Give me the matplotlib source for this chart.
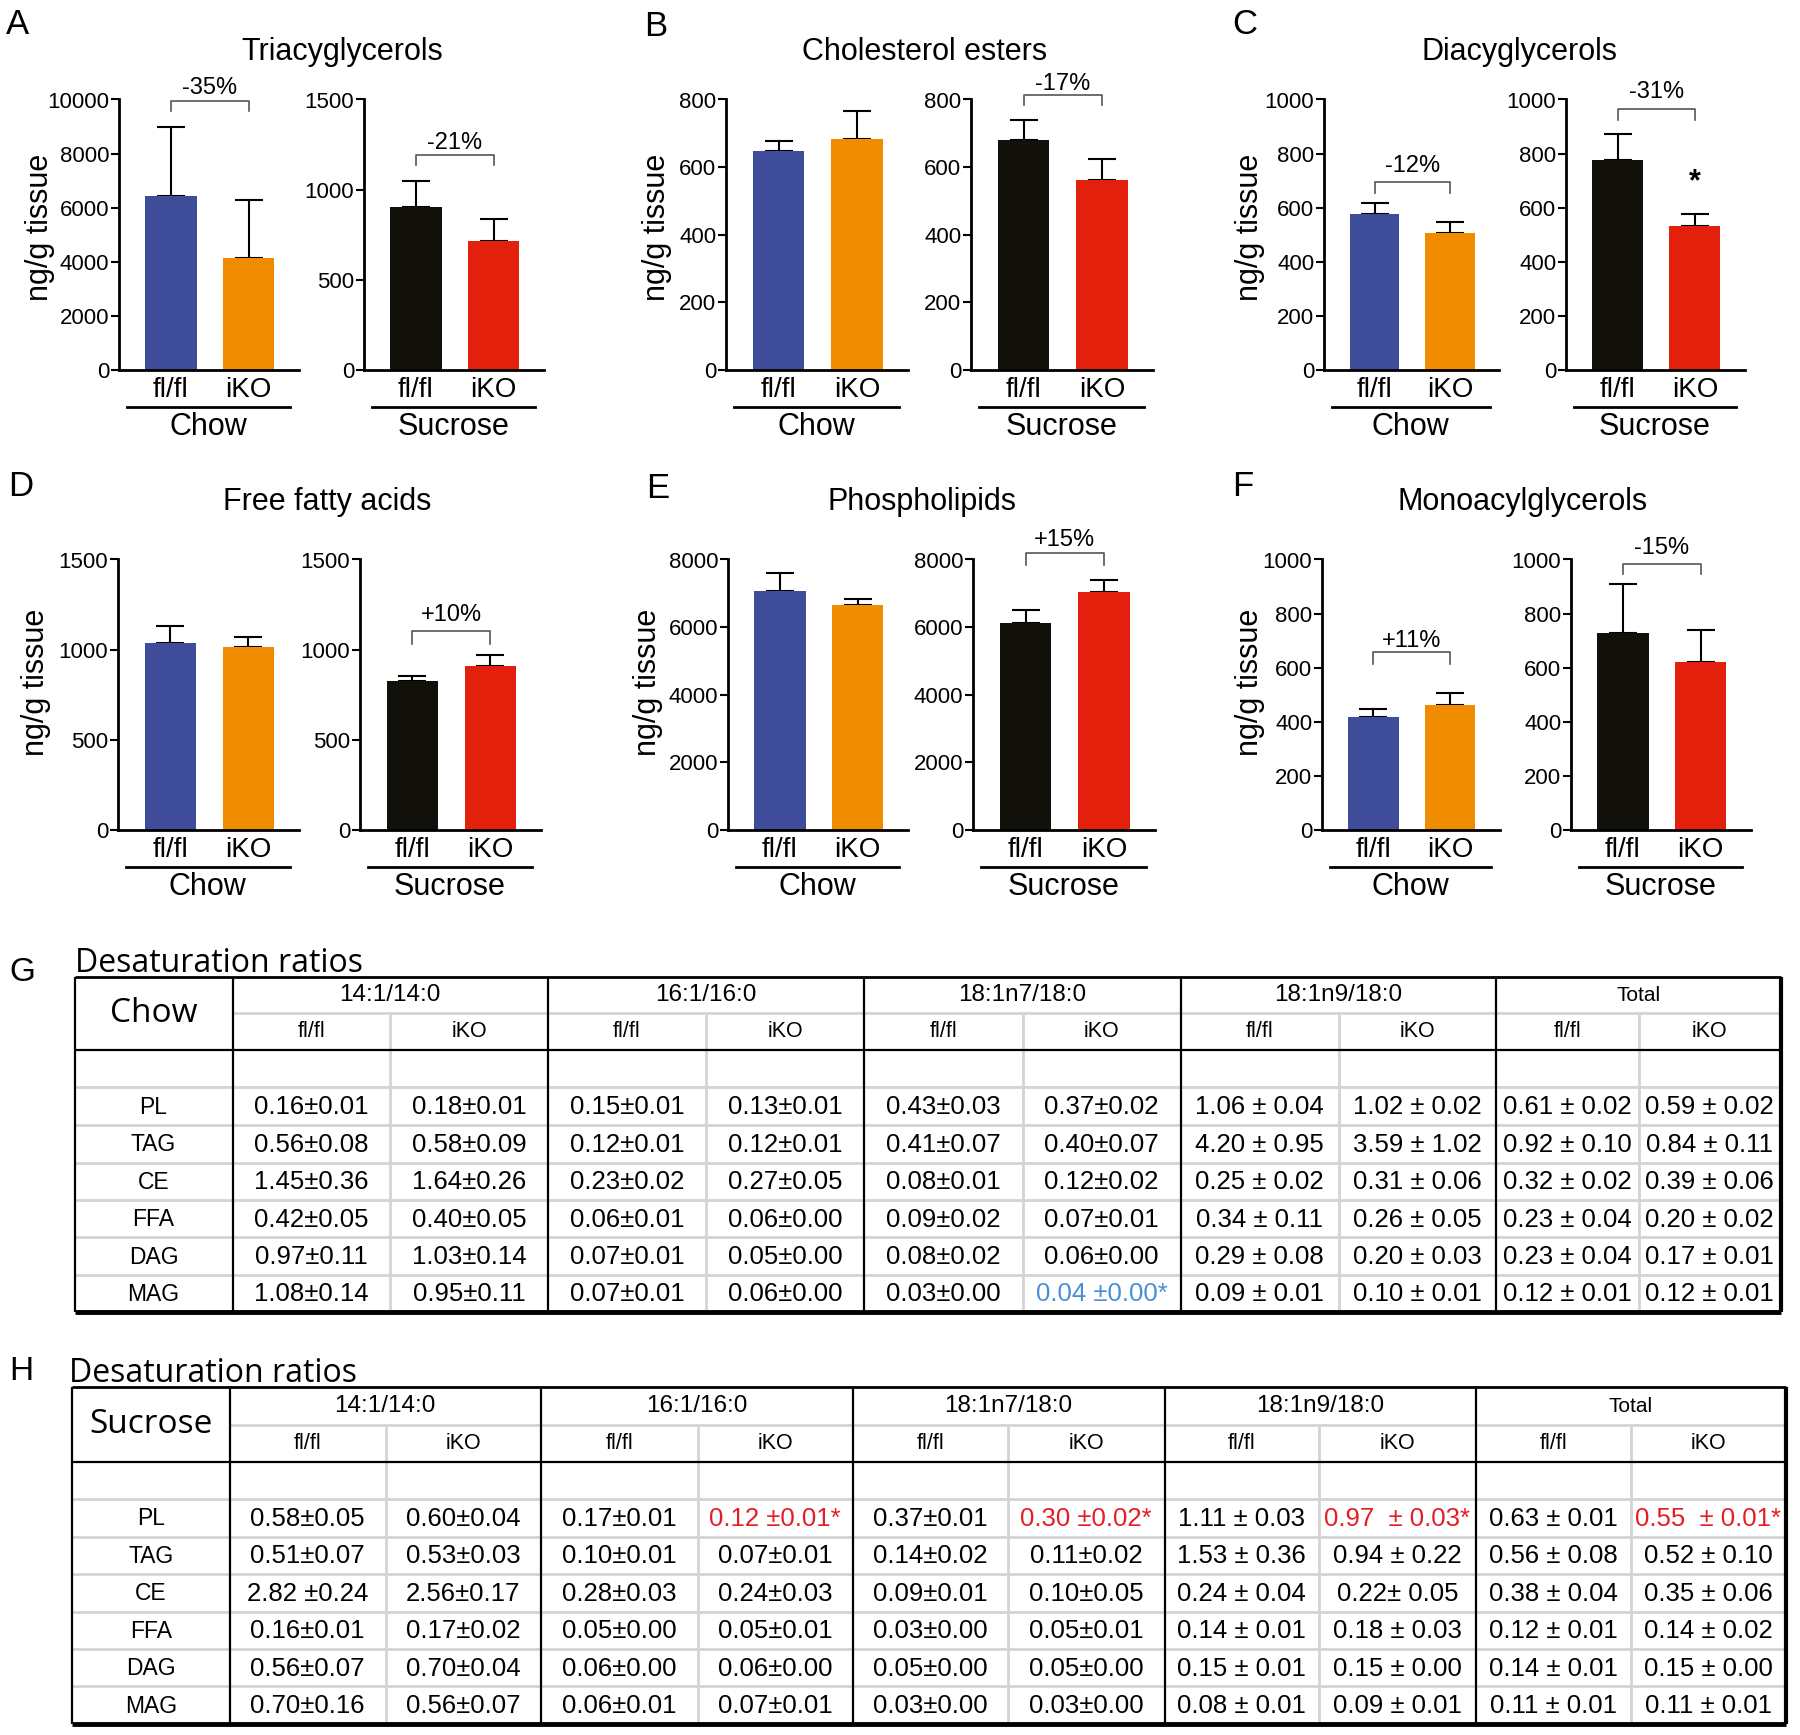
from matplotlib import pyplot as plt
import numpy as np

plt.rcParams['font.family'] = ['Liberation Sans', 'DejaVu Sans']

W, H = 1800, 1735
fig = plt.figure(figsize=(W / 100, H / 100), dpi=100)

# ---------------- bar panels A-F ----------------
letters = ['A', 'B', 'C', 'D', 'E', 'F']
titles = ['Triacyglycerols', 'Cholesterol esters', 'Diacyglycerols',
          'Free fatty acids', 'Phospholipids', 'Monoacylglycerols']
groups = ['fl/fl', 'iKO']
diets = ['Chow', 'Sucrose']

chow_fl = [6420, 648, 578, 1037, 7060, 416]
chow_fl_err = [2580, 30, 39, 93, 545, 31]
chow_ko = [4140, 682, 508, 1013, 6647, 463]
chow_ko_err = [2160, 83, 39, 57, 188, 42]
suc_fl = [905, 679, 775, 826, 6130, 727]
suc_fl_err = [142, 60, 96, 27, 364, 183]
suc_ko = [715, 562, 534, 911, 7035, 620]
suc_ko_err = [125, 62, 41, 59, 354, 120]

chow_ymax = [10000, 800, 1000, 1500, 8000, 1000]
chow_ystep = [2000, 200, 200, 500, 2000, 200]
suc_ymax = [1500, 800, 1000, 1500, 8000, 1000]
suc_ystep = [500, 200, 200, 500, 2000, 200]

# percent change: (label, bracket top, leg end, label y)
chow_pct = [('-35%', 9960, 9570, 10430), None, ('-12%', 696, 653, 754),
            None, None, ('+11%', 657, 614, 700)]
suc_pct = [('-21%', 1195, 1136, 1260), ('-17%', 813, 785, 847),
           ('-31%', 966, 926, 1028), ('+10%', 1105, 1034, 1191),
           ('+15%', 8197, 7833, 8590), ('-15%', 984, 947, 1043)]
suc_star = [None, None, 695, None, None, None]

chow_colors = ['#3f4c9a', '#f08c00']
suc_colors = ['#12100b', '#e2200c']

# layout in pixels
left_x = [(119, 299), (726, 908), (1324, 1499), (118, 299), (728, 908), (1322, 1500)]
right_x = [(364, 544), (971, 1153), (1566, 1745), (360, 541), (973, 1155), (1571, 1751)]
row_y = [(99.5, 370), (559.5, 830)]
title_xy = [(342, 52), (925, 52), (1520, 52), (327, 502), (922, 502), (1523, 502)]
letter_xy = [(6, 24), (644, 26), (1232, 25), (8, 486), (646, 488), (1232, 486)]
ylab_xy = [(40, 227), (657, 227), (1250, 227), (36, 682), (648, 682), (1250, 682)]


def px_axes(x0, x1, ytop, ybot):
    return fig.add_axes([x0 / W, 1 - ybot / H, (x1 - x0) / W, (ybot - ytop) / H])


def bar_panel(ax, vals, errs, colors, ymax, ystep, diet, pct, star):
    ax.bar([0, 1], vals, width=0.66, color=colors, zorder=2)
    ax.errorbar([0, 1], vals, yerr=[[0, 0], errs], fmt='none', ecolor='black',
                elinewidth=1.5, capsize=10, capthick=1.5, zorder=1)
    ax.set_xlim(-0.67, 1.65)
    ax.set_ylim(0, ymax)
    ax.set_yticks(np.arange(0, ymax + 1, ystep))
    for s in ['top', 'right']:
        ax.spines[s].set_visible(False)
    for s in ['left', 'bottom']:
        ax.spines[s].set_linewidth(2)
    ax.tick_params(axis='y', direction='out', length=6, width=1.5, labelsize=16, pad=1)
    ax.set_xticks([0, 1], groups)
    ax.tick_params(axis='x', length=0, labelsize=20, pad=5)
    tr = ax.get_xaxis_transform()
    ax.plot([-0.57, 1.53], [-0.135, -0.135], transform=tr, color='black', lw=2, clip_on=False)
    ax.text(0.48, -0.21, diet, transform=tr, ha='center', va='center', fontsize=22)
    if pct:
        lab, top, leg, ty = pct
        ax.plot([0, 0, 1, 1], [leg, top, top, leg], color='#555555', lw=1.2, clip_on=False)
        ax.text(0.5, ty, lab, ha='center', va='center', fontsize=17, clip_on=False)
    if star:
        ax.text(1, star, '*', ha='center', va='center', fontsize=22, fontweight='bold')


for i in range(6):
    ytop, ybot = row_y[i // 3]
    ax1 = px_axes(left_x[i][0], left_x[i][1], ytop, ybot)
    bar_panel(ax1, [chow_fl[i], chow_ko[i]], [chow_fl_err[i], chow_ko_err[i]], chow_colors,
              chow_ymax[i], chow_ystep[i], diets[0], chow_pct[i], None)
    ax2 = px_axes(right_x[i][0], right_x[i][1], ytop, ybot)
    bar_panel(ax2, [suc_fl[i], suc_ko[i]], [suc_fl_err[i], suc_ko_err[i]], suc_colors,
              suc_ymax[i], suc_ystep[i], diets[1], suc_pct[i], suc_star[i])
    fig.text(title_xy[i][0] / W, 1 - title_xy[i][1] / H, titles[i], ha='center', va='center', fontsize=22)
    fig.text(letter_xy[i][0] / W, 1 - letter_xy[i][1] / H, letters[i], ha='left', va='center', fontsize=25)
    fig.text(ylab_xy[i][0] / W, 1 - ylab_xy[i][1] / H, 'ng/g tissue', ha='center', va='center',
             rotation=90, fontsize=22)

# ---------------- tables G and H ----------------
row_labels = ['PL', 'TAG', 'CE', 'FFA', 'DAG', 'MAG']
ratio_names = ['14:1/14:0', '16:1/16:0', '18:1n7/18:0', '18:1n9/18:0', 'Total']

chow_14 = [['0.16±0.01', '0.56±0.08', '1.45±0.36', '0.42±0.05', '0.97±0.11', '1.08±0.14'],
           ['0.18±0.01', '0.58±0.09', '1.64±0.26', '0.40±0.05', '1.03±0.14', '0.95±0.11']]
chow_16 = [['0.15±0.01', '0.12±0.01', '0.23±0.02', '0.06±0.01', '0.07±0.01', '0.07±0.01'],
           ['0.13±0.01', '0.12±0.01', '0.27±0.05', '0.06±0.00', '0.05±0.00', '0.06±0.00']]
chow_18n7 = [['0.43±0.03', '0.41±0.07', '0.08±0.01', '0.09±0.02', '0.08±0.02', '0.03±0.00'],
             ['0.37±0.02', '0.40±0.07', '0.12±0.02', '0.07±0.01', '0.06±0.00', '0.04 ±0.00*']]
chow_18n9 = [['1.06 ± 0.04', '4.20 ± 0.95', '0.25 ± 0.02', '0.34 ± 0.11', '0.29 ± 0.08', '0.09 ± 0.01'],
             ['1.02 ± 0.02', '3.59 ± 1.02', '0.31 ± 0.06', '0.26 ± 0.05', '0.20 ± 0.03', '0.10 ± 0.01']]
chow_total = [['0.61 ± 0.02', '0.92 ± 0.10', '0.32 ± 0.02', '0.23 ± 0.04', '0.23 ± 0.04', '0.12 ± 0.01'],
              ['0.59 ± 0.02', '0.84 ± 0.11', '0.39 ± 0.06', '0.20 ± 0.02', '0.17 ± 0.01', '0.12 ± 0.01']]

suc_14 = [['0.58±0.05', '0.51±0.07', '2.82 ±0.24', '0.16±0.01', '0.56±0.07', '0.70±0.16'],
          ['0.60±0.04', '0.53±0.03', '2.56±0.17', '0.17±0.02', '0.70±0.04', '0.56±0.07']]
suc_16 = [['0.17±0.01', '0.10±0.01', '0.28±0.03', '0.05±0.00', '0.06±0.00', '0.06±0.01'],
          ['0.12 ±0.01*', '0.07±0.01', '0.24±0.03', '0.05±0.01', '0.06±0.00', '0.07±0.01']]
suc_18n7 = [['0.37±0.01', '0.14±0.02', '0.09±0.01', '0.03±0.00', '0.05±0.00', '0.03±0.00'],
            ['0.30 ±0.02*', '0.11±0.02', '0.10±0.05', '0.05±0.01', '0.05±0.00', '0.03±0.00']]
suc_18n9 = [['1.11 ± 0.03', '1.53 ± 0.36', '0.24 ± 0.04', '0.14 ± 0.01', '0.15 ± 0.01', '0.08 ± 0.01'],
            ['0.97  ± 0.03*', '0.94 ± 0.22', '0.22± 0.05', '0.18 ± 0.03', '0.15 ± 0.00', '0.09 ± 0.01']]
suc_total = [['0.63 ± 0.01', '0.56 ± 0.08', '0.38 ± 0.04', '0.12 ± 0.01', '0.14 ± 0.01', '0.11 ± 0.01'],
             ['0.55  ± 0.01*', '0.52 ± 0.10', '0.35 ± 0.06', '0.14 ± 0.02', '0.15 ± 0.00', '0.11 ± 0.01']]

# highlighted cells: (column, row) -> colour
chow_hl = {(5, 5): '#4a8fd6'}
suc_hl = {(3, 0): '#e31e24', (5, 0): '#e31e24', (7, 0): '#e31e24', (9, 0): '#e31e24'}

# table grid in pixels
g_cols = [74.6, 232.5, 390, 548, 706, 864, 1022.6, 1180.5, 1339, 1496, 1638.8, 1780.8]
g_rows = [976.7, 1013.3, 1050, 1087.3, 1125, 1162.7, 1200, 1237.3, 1275, 1311.7]
h_cols = [71.8, 229.6, 385.8, 540.8, 697.5, 852.5, 1008, 1164.6, 1319, 1475.7, 1631, 1785.5]
h_rows = [1387.3, 1425, 1461.7, 1499, 1536.7, 1574, 1611.7, 1649, 1686, 1724]

tab = fig.add_axes([0, 0, 1, 1])
tab.set_xlim(0, W)
tab.set_ylim(H, 0)
tab.axis('off')

head_font = ['Open Sans', 'DejaVu Sans']


def draw_table(cols, rows, corner, blocks, hl, letter, title_x, title_base, letter_y):
    x0, x1 = cols[0], cols[-1]
    gray = '#d4d4d4'
    tab.hlines(rows[1], cols[1], x1, color=gray, lw=2)
    tab.hlines(rows[3:-1], x0, x1, color=gray, lw=2)
    tab.vlines(cols[2:-1:2], rows[1], rows[-1], color=gray, lw=2)
    tab.vlines(cols[1:-1:2], rows[0], rows[-1], color='black', lw=1.6)
    tab.hlines(rows[2], x0, x1, color='black', lw=1.6)
    tab.hlines(rows[0], x0, x1, color='black', lw=2)
    tab.hlines(rows[-1], x0, x1, color='black', lw=3.5)
    tab.vlines(x0, rows[0], rows[-1], color='black', lw=1.6)
    tab.vlines(x1, rows[0], rows[-1], color='black', lw=3)

    tab.text((cols[0] + cols[1]) / 2, (rows[0] + rows[2]) / 2, corner, ha='center', va='center',
             fontsize=24, family=head_font)
    for k, name in enumerate(ratio_names):
        cl, cm, cr = cols[1 + 2 * k], cols[2 + 2 * k], cols[3 + 2 * k]
        tab.text((cl + cr) / 2, (rows[0] + rows[1]) / 2, name, ha='center', va='center',
                 fontsize=17.5 if name != 'Total' else 15)
        for j, (a, b) in enumerate([(cl, cm), (cm, cr)]):
            tab.text((a + b) / 2, (rows[1] + rows[2]) / 2, groups[j], ha='center', va='center', fontsize=15.5)
            c = 2 * k + j
            for r in range(6):
                tab.text((a + b) / 2, (rows[3 + r] + rows[4 + r]) / 2 + 1, blocks[k][j][r],
                         ha='center', va='center', fontsize=18.5, color=hl.get((c, r), 'black'))
    for r, lab in enumerate(row_labels):
        tab.text((cols[0] + cols[1]) / 2, (rows[3 + r] + rows[4 + r]) / 2 + 1, lab,
                 ha='center', va='center', fontsize=16.5)
    tab.text(title_x, title_base, 'Desaturation ratios', ha='left', va='baseline',
             fontsize=23, family=head_font)
    tab.text(9, letter_y, letter, ha='left', va='center', fontsize=24)


draw_table(g_cols, g_rows, diets[0], [chow_14, chow_16, chow_18n7, chow_18n9, chow_total],
           chow_hl, 'G', 74.6, 971.7, 972)
draw_table(h_cols, h_rows, diets[1], [suc_14, suc_16, suc_18n7, suc_18n9, suc_total],
           suc_hl, 'H', 69, 1381.7, 1371)

fig.savefig('out.png', dpi=100)
